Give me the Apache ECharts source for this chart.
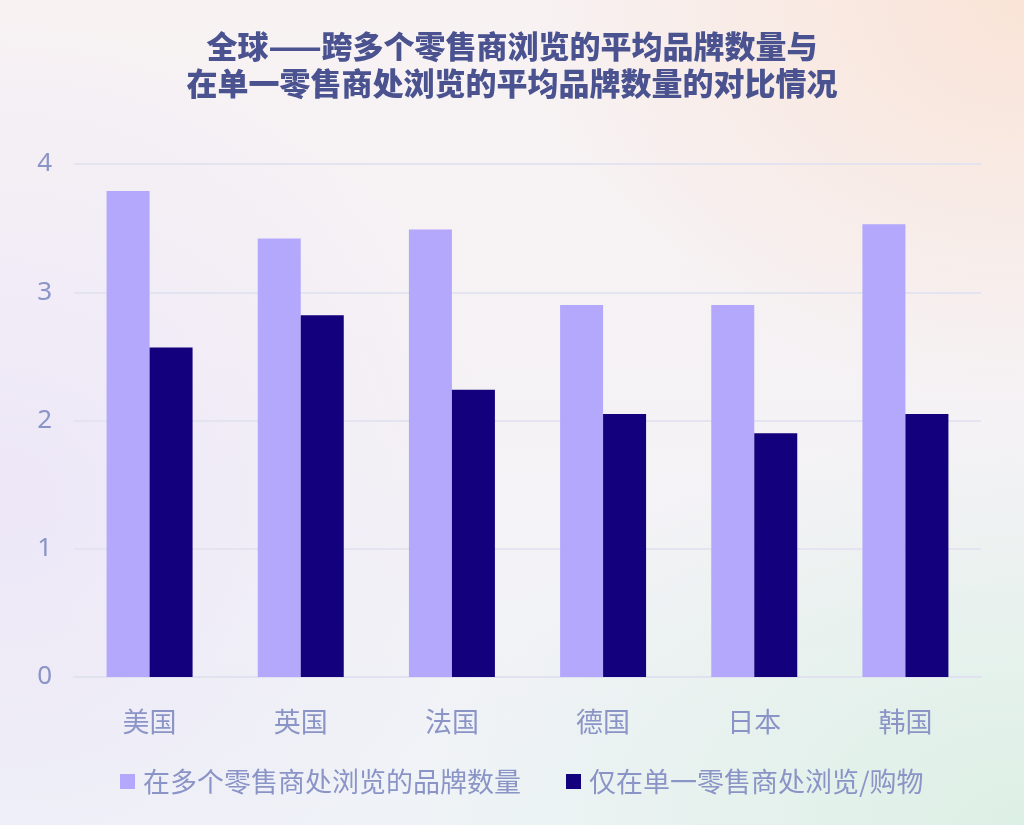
<!DOCTYPE html>
<html><head><meta charset="utf-8">
<script src="https://cdn.jsdelivr.net/npm/echarts@6/dist/echarts.min.js"></script>
<style>
html,body{margin:0;padding:0;width:1024px;height:825px;overflow:hidden;}
body{background:
 radial-gradient(ellipse 500px 400px at 1024px 0px, rgba(250,225,210,0.85), rgba(250,225,210,0) 100%),
 radial-gradient(ellipse 600px 400px at 1024px 825px, rgba(220,240,228,0.95), rgba(220,240,228,0) 100%),
 radial-gradient(ellipse 500px 500px at 0px 500px, rgba(236,230,248,0.9), rgba(236,230,248,0) 100%),
 linear-gradient(180deg,#f8f2f3 0%,#f5f2f5 50%,#eff3f7 100%);}
#c{width:1024px;height:825px;}
</style></head><body>
<div id="c"></div>
<script>
const titleLines = ['全球——跨多个零售商浏览的平均品牌数量与','在单一零售商处浏览的平均品牌数量的对比情况'];
const categories = ['美国','英国','法国','德国','日本','韩国'];
const seriesNames = ['在多个零售商处浏览的品牌数量','仅在单一零售商处浏览/购物'];
const multiRetailer = [3.79, 3.42, 3.49, 2.90, 2.90, 3.53];
const singleRetailer = [2.57, 2.82, 2.24, 2.05, 1.90, 2.05];
const yTicks = [0, 1, 2, 3, 4];

const chart = echarts.init(document.getElementById('c'), null, {renderer:'canvas'});
const labelColor = '#8a94c6';
chart.setOption({
  backgroundColor: 'transparent',
  title: {
    text: titleLines.join('\n'),
    left: 'center', top: 23,
    textStyle: {fontSize: 31, fontWeight: 900, color: '#4a5390', lineHeight: 37,
      fontFamily: '"Noto Sans CJK SC", sans-serif'}
  },
  legend: {
    bottom: 25, left: 115, itemWidth: 15, itemHeight: 15, itemGap: 45, icon: 'rect',
    textStyle: {fontSize: 27, color: labelColor, padding: [0,0,0,3], fontFamily: '"Noto Sans CJK SC", sans-serif'},
    data: seriesNames
  },
  grid: {left: 74, right: 43, top: 164, bottom: 148, containLabel: false},
  xAxis: {
    type: 'category', data: categories,
    axisLine: {lineStyle: {color: '#e1e2ef', width: 2}},
    axisTick: {show: false},
    axisLabel: {fontSize: 27, color: labelColor, margin: 31, fontFamily: '"Noto Sans CJK SC", sans-serif'}
  },
  yAxis: {
    type: 'value', min: yTicks[0], max: yTicks[yTicks.length-1], interval: 1,
    axisLine: {show: false}, axisTick: {show: false},
    splitLine: {lineStyle: {color: '#e3e4f0', width: 2}},
    axisLabel: {fontSize: 26, color: labelColor, margin: 22, fontFamily: '"Noto Sans", sans-serif'}
  },
  series: [
    {name: seriesNames[0], type: 'bar', data: multiRetailer, barWidth: 43, barGap: '0%',
     itemStyle: {color: '#b3a8fc'}},
    {name: seriesNames[1], type: 'bar', data: singleRetailer, barWidth: 43, barGap: '0%',
     itemStyle: {color: '#13007c'}}
  ]
});
</script>
</body></html>
